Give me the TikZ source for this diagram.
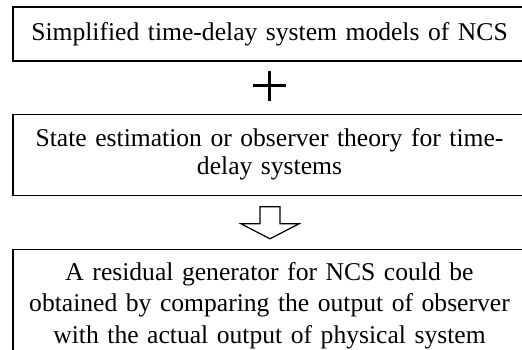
\documentclass[tikz,border=0pt]{standalone}
\usepackage{fontspec}
\setmainfont{Liberation Serif}
\usetikzlibrary{positioning,calc}

\begin{document}
\begin{tikzpicture}[x=1pt,y=1pt,
    every node/.style={font=\fontsize{25.6}{28}\selectfont},
    stage/.style={draw,line width=1.2pt,minimum width=513pt,
        text width=500pt,align=center,inner xsep=4pt},
    plusbar/.style={line width=2.6pt},
    hollow/.style={draw,line width=1.2pt,line join=miter}]
    \clip (0,0) rectangle (522,-350);

    \node[stage,minimum height=54pt] (models) at (269.5,-34)
        {Simplified time-delay system models of NCS};
    \node[stage,minimum height=81pt,below=52pt of models] (observer)
        {State estimation or observer theory for time-\\delay systems};
    % last box runs off the bottom, so its text is set on its own
    \node[stage,minimum height=130pt,below=53pt of observer] (residual) {};
    \node[anchor=north,inner sep=0pt,text width=500pt,align=center,
        font=\fontsize{25.6}{31.5}\selectfont]
        (residualtext) at ([yshift=-13pt]residual.north)
        {A residual generator for NCS could be\\
         obtained by comparing the output of observer\\
         with the actual output of physical system};

    % plus sign between the first two boxes
    \coordinate (plus) at ($(models.south)!0.46!(observer.north)$);
    \draw[plusbar] ([xshift=-16.5pt]plus) -- ([xshift=16.5pt]plus)
                   ([yshift=15pt]plus) -- ([yshift=-15pt]plus);

    % hollow block arrow down to the result
    \coordinate (arr) at ($(observer.south)+(0.5,-11)$);
    \draw[hollow] (arr) ++(-10,0) -- ++(20,0) -- ++(0,-17) -- ++(19,0)
        -- ++(-29,-15) -- ++(-29,15) -- ++(19,0) -- cycle;

\end{tikzpicture}
\end{document}
